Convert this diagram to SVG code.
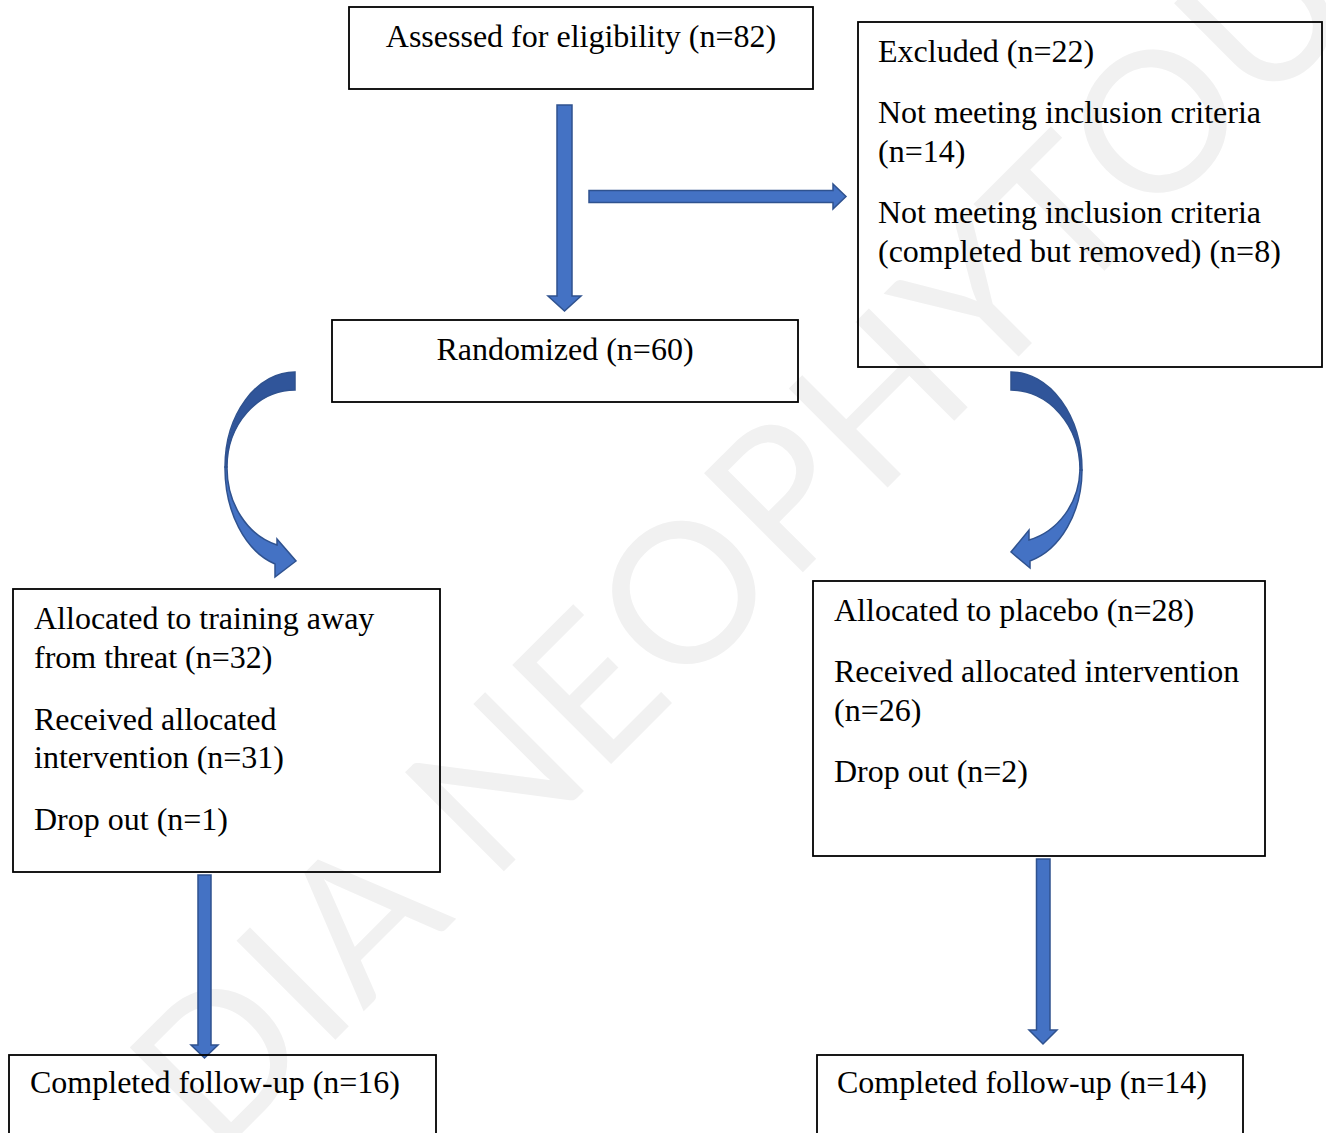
<svg xmlns="http://www.w3.org/2000/svg" width="1326" height="1133" viewBox="0 0 1326 1133">
<style>
.box{fill:none;stroke:#000;stroke-width:1.8}
.t{font-family:"Liberation Serif","Times New Roman",serif;font-size:32px;fill:#000}
.c{text-anchor:middle}
.arr{fill:#4472C4;stroke:#2F528F;stroke-width:1.5;stroke-linejoin:miter}
.arrd{fill:#30559A;stroke:#2F528F;stroke-width:1.5}
.wm{font-family:Lato,"Open Sans","Liberation Sans",sans-serif;font-size:195px;fill:#f1f1f1}
</style>
<rect width="1326" height="1133" fill="#fff"/>
<g id="watermark">
<text class="wm" transform="translate(216,1159) rotate(-45)" textLength="1622" lengthAdjust="spacing">DIA NEOPHYTOU</text>
</g>
<g id="connectors">
<path class="arr" d="M557,105 H572 V296 H581 L564.5,311 L548,296 H557 Z"/>
<path class="arr" d="M589,190.5 H833 V184 L846,196.5 L833,209 V202.5 H589 Z"/>
<path class="arr" d="M198,875 H211 V1045 H218 L204.5,1058 L191,1045 H198 Z"/>
<path class="arr" d="M1036.5,859 H1050 V1030 H1057 L1043,1044 L1029,1030 H1036.5 Z"/>
<g id="curve-left">
<path class="arr" d="M225,467 A70,100 0 0 0 275,564 L275,577 L296,561 L277,539 L277,545 A68,80 0 0 1 227,467 Z"/>
<path class="arrd" d="M295,372 A70,95 0 0 0 225,467 L227,467 A68,77 0 0 1 295,390 Z"/>
</g>
<g id="curve-right">
<path class="arr" d="M1082,470 A71,95 0 0 1 1030,561 L1030,568 L1011,552 L1029,530 L1029,540 A69,75 0 0 0 1080,470 Z"/>
<path class="arrd" d="M1011,372 A71,98 0 0 1 1082,470 L1080,470 A69,80 0 0 0 1011,390 Z"/>
</g>
</g>
<g id="assessed">
<rect class="box" x="349" y="7" width="464" height="82"/>
<text class="t c" x="581" y="47">Assessed for eligibility (n=82)</text>
</g>
<g id="excluded">
<rect class="box" x="858" y="22" width="464" height="345"/>
<text class="t" x="878" y="62">Excluded (n=22)</text>
<text class="t"><tspan x="878" y="123">Not meeting inclusion criteria</tspan><tspan x="878" y="162">(n=14)</tspan></text>
<text class="t"><tspan x="878" y="223">Not meeting inclusion criteria</tspan><tspan x="878" y="262">(completed but removed) (n=8)</tspan></text>
</g>
<g id="randomized">
<rect class="box" x="332" y="320" width="466" height="82"/>
<text class="t c" x="565" y="360">Randomized (n=60)</text>
</g>
<g id="alloc-training">
<rect class="box" x="13" y="589" width="427" height="283"/>
<text class="t"><tspan x="34" y="629">Allocated to training away</tspan><tspan x="34" y="668">from threat (n=32)</tspan></text>
<text class="t"><tspan x="34" y="730">Received allocated</tspan><tspan x="34" y="768">intervention (n=31)</tspan></text>
<text class="t" x="34" y="830">Drop out (n=1)</text>
</g>
<g id="alloc-placebo">
<rect class="box" x="813" y="581" width="452" height="275"/>
<text class="t" x="834" y="621">Allocated to placebo (n=28)</text>
<text class="t"><tspan x="834" y="682">Received allocated intervention</tspan><tspan x="834" y="721">(n=26)</tspan></text>
<text class="t" x="834" y="782">Drop out (n=2)</text>
</g>
<g id="completed-training">
<rect class="box" x="9" y="1055" width="427" height="90"/>
<text class="t" x="30" y="1093">Completed follow-up (n=16)</text>
</g>
<g id="completed-placebo">
<rect class="box" x="817" y="1055" width="426" height="90"/>
<text class="t" x="837" y="1093">Completed follow-up (n=14)</text>
</g>
</svg>
